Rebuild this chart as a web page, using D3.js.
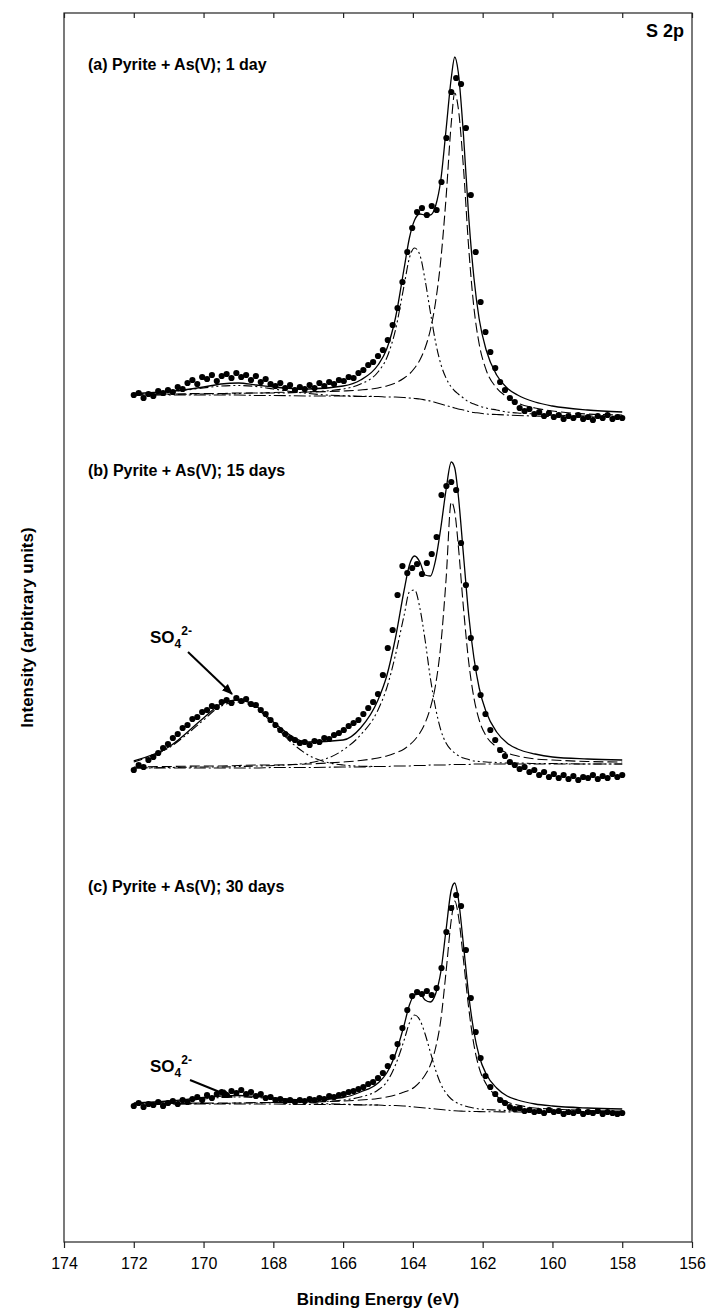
<!DOCTYPE html>
<html>
<head>
<meta charset="utf-8">
<script src="https://cdn.jsdelivr.net/npm/d3@7"></script>
<style>
  body { margin: 0; background: #fff; }
  svg text { font-family: Arial, "Liberation Sans", sans-serif; fill: #000; }
</style>
</head>
<body>
<div class="chart"></div>
<script>
const width = 708;
const height = 1314;

// binding energy ticks (eV)
const energyTicks = [174, 172, 170, 168, 166, 164, 162, 160, 158, 156];

// energies where the fitted curves were read
const fitEnergy = [172, 171, 170, 169.5, 169, 168.5, 168, 167, 166, 165.5,
  165, 164.75, 164.5, 164.25, 164.1, 163.95, 163.8, 163.65, 163.5, 163.35,
  163.2, 163.05, 162.9, 162.8, 162.7, 162.55, 162.4, 162.25, 162.1, 161.9,
  161.6, 161.3, 161, 160.5, 160, 159, 158];

// energies of the sulfate component
const so4Energy = [172, 171.5, 171, 170.5, 170, 169.5, 169, 168.5, 168, 167.5, 167, 166.5, 166, 165.5, 165];

// energies of the measured points
const dotEnergy = [172, 171.86, 171.72, 171.58, 171.44, 171.3, 171.16, 171.02, 170.88, 170.74,
  170.6, 170.46, 170.32, 170.18, 170.04, 169.9, 169.76, 169.62, 169.48, 169.34,
  169.2, 169.06, 168.92, 168.78, 168.64, 168.5, 168.36, 168.22, 168.08, 167.94,
  167.8, 167.66, 167.52, 167.38, 167.24, 167.1, 166.96, 166.82, 166.68, 166.54,
  166.4, 166.26, 166.12, 165.98, 165.84, 165.7, 165.56, 165.42, 165.28, 165.14,
  165, 164.86, 164.72, 164.58, 164.44, 164.3, 164.16, 164.02, 163.88, 163.74,
  163.6, 163.46, 163.32, 163.18, 163.04, 162.9, 162.76, 162.62, 162.48, 162.34,
  162.2, 162.06, 161.92, 161.78, 161.64, 161.5, 161.36, 161.22, 161.08, 160.94,
  160.8, 160.66, 160.52, 160.38, 160.24, 160.1, 159.96, 159.82, 159.68, 159.54,
  159.4, 159.26, 159.12, 158.98, 158.84, 158.7, 158.56, 158.42, 158.28, 158.14,
  158];

// vertical offset of each spectrum (arbitrary units)
const panelOffsets = [822, 462, 122];
const panelLabels = ['(a) Pyrite + As(V); 1 day', '(b) Pyrite + As(V); 15 days', '(c) Pyrite + As(V); 30 days'];

// (a) 1 day
const bgA = [25, 25, 25, 25, 25, 24.5, 24.5, 24, 24, 23.5,
  23.5, 23, 23, 22.5, 22, 21.5, 21, 20, 19, 17.5,
  16, 14.5, 13, 12, 11, 10, 8.5, 7.5, 7, 6,
  5.5, 5, 4.5, 4, 3.5, 3, 3];
const p32A = [26, 26, 26.5, 26.5, 27, 27, 27.5, 28, 29, 30,
  32, 34, 37, 42, 46, 52, 60, 72, 90, 118,
  160, 222, 297, 327, 312, 252, 172, 112, 76, 50,
  32, 23, 17, 12, 9, 6, 5];
const p12A = [25, 25.5, 26, 26, 26.5, 27, 27, 28, 31, 36,
  48, 62, 90, 135, 162, 172, 165, 140, 108, 78,
  56, 42, 33, 29, 26, 22, 18, 16, 14, 12,
  10, 8, 7, 6, 5, 4, 3.5];
const so4A = [25.5, 26.5, 28, 30, 32, 34, 34.5, 33.5, 31, 28.5, 26.5, 25, 24.3, 23.8, 23.5];
const totalA = [26.5, 28.5, 33, 36, 37, 35, 33, 31, 34, 40,
  55, 71, 102, 152, 182, 200, 206, 205, 205, 214,
  240, 290, 342, 363, 348, 285, 203, 142, 101, 70,
  45, 32, 25, 18, 14, 10, 8];
const dotsA = [25, 27, 22, 26, 24, 29, 27, 30, 28, 33,
  31, 37, 40, 36, 43, 41, 45, 39, 44, 46,
  42, 47, 43, 45, 40, 44, 38, 41, 36, 34,
  37, 32, 35, 30, 33, 31, 35, 32, 37, 34,
  38, 36, 40, 39, 43, 42, 47, 50, 55, 58,
  64, 70, 80, 95, 112, 138, 168, 192, 208, 212,
  205, 214, 210, 238, 282, 328, 342, 336, 292, 225,
  168, 118, 88, 68, 52, 38, 30, 22, 18, 12,
  9, 11, 6, 8, 4, 7, 3, 5, 1, 4,
  2, 5, 1, 3, 0, 4, 2, 5, 1, 3,
  2];

// (b) 15 days
const bgB = [12, 12, 12, 12, 12, 12, 12.5, 12.5, 13, 13,
  13.5, 13.5, 14, 14, 14, 14.5, 14.5, 14.5, 15, 15,
  15, 15, 15.5, 15.5, 15.5, 15.5, 15.5, 16, 16, 16,
  16, 16, 16, 16, 16, 16, 16];
const p32B = [13, 13.5, 14, 14, 14.5, 15, 15, 16, 18, 19.5,
  22, 24, 27, 31, 35, 40, 47, 57, 72, 95,
  135, 200, 278, 268, 235, 172, 118, 82, 60, 44,
  33, 27, 24, 21, 20, 18.5, 18];
const p12B = [12, 12.5, 13, 13, 13.5, 14, 14.5, 17, 30, 45,
  70, 92, 125, 165, 188, 190, 172, 140, 102, 72,
  50, 37, 30, 27, 24.5, 22, 20.5, 19, 18.5, 18,
  17.5, 17, 17, 16.5, 16.5, 16, 16];
const so4B = [18, 24, 32, 45, 60, 74, 78, 72, 56, 38, 25, 18, 15, 13.8, 13.5];
const totalB = [19, 33, 62, 76, 80, 74, 58, 38, 40, 52,
  80, 104, 142, 190, 215, 224, 218, 205, 204, 220,
  252, 290, 318, 312, 285, 225, 165, 122, 92, 68,
  48, 37, 31, 26, 23, 21, 20];
const dotsB = [10, 15, 13, 20, 23, 27, 32, 36, 42, 46,
  52, 55, 61, 63, 68, 70, 74, 73, 78, 80,
  77, 82, 79, 81, 76, 75, 70, 66, 60, 55,
  50, 46, 42, 40, 37, 38, 35, 39, 38, 42,
  41, 45, 47, 50, 54, 57, 60, 66, 72, 78,
  86, 105, 132, 150, 185, 214, 207, 212, 216, 206,
  217, 226, 243, 285, 294, 298, 290, 237, 195, 142,
  112, 85, 66, 50, 40, 30, 24, 18, 15, 11,
  13, 8, 10, 5, 8, 3, 6, 2, 5, 1,
  4, 0, 3, 2, 5, 1, 4, 2, 6, 3,
  5];

// (c) 30 days
const bgC = [16, 16, 16, 16, 16, 16, 16, 15.5, 15.5, 15,
  15, 14.5, 14.5, 14, 13.5, 13, 12.5, 12, 11.5, 11,
  10.5, 10, 9.5, 9.2, 9, 8.8, 8.6, 8.5, 8.4, 8.3,
  8.2, 8.1, 8, 8, 8, 8, 8];
const p32C = [16.5, 16.5, 17, 17, 17, 17.5, 17.5, 18, 19, 20,
  21.5, 23, 25, 28, 30, 33, 38, 45, 55, 72,
  100, 148, 200, 219, 205, 160, 112, 75, 52, 36,
  24, 18, 15, 12, 11, 9.5, 9];
const p12C = [16, 16, 16.5, 16.5, 17, 17, 17.5, 18, 20, 23,
  30, 38, 55, 80, 97, 105, 100, 86, 68, 50,
  36, 27, 21, 18.5, 16.5, 14.5, 13, 12, 11, 10.5,
  10, 9.5, 9, 9, 8.5, 8.5, 8];
const so4C = [16.5, 17.2, 18, 19.5, 21, 22.5, 23, 22.5, 21, 19, 17.5, 16.3, 15.8, 15.3, 15];
const totalC = [17, 19, 22.5, 24, 24.5, 23.5, 22, 20, 22.5, 28,
  37, 47, 66, 95, 115, 125, 126, 120, 118, 126,
  148, 190, 230, 237, 222, 175, 125, 88, 64, 46,
  32, 24, 20, 16, 14, 12, 11];
const dotsC = [14, 17, 13, 16, 15, 18, 14, 17, 19, 16,
  20, 18, 21, 23, 20, 25, 22, 26, 28, 25,
  29, 27, 30, 26, 28, 24, 26, 22, 23, 20,
  21, 19, 20, 18, 20, 19, 21, 20, 22, 21,
  24, 23, 25, 26, 28, 29, 31, 33, 36, 38,
  42, 47, 54, 63, 76, 92, 110, 124, 128, 126,
  129, 125, 132, 152, 188, 212, 225, 214, 170, 122,
  88, 62, 44, 33, 26, 20, 17, 13, 11, 12,
  9, 10, 8, 9, 7, 10, 8, 9, 6, 8,
  7, 9, 6, 8, 7, 9, 6, 8, 7, 6,
  7];

const panels = [
  {bg: bgA, p32: p32A, p12: p12A, so4: so4A, total: totalA, dots: dotsA},
  {bg: bgB, p32: p32B, p12: p12B, so4: so4B, total: totalB, dots: dotsB},
  {bg: bgC, p32: p32C, p12: p12C, so4: so4C, total: totalC, dots: dotsC}
];

const frame = {left: 64, right: 692, top: 13, bottom: 1242};

const svg = d3.select('.chart').append('svg')
  .attr('width', width)
  .attr('height', height)
  .attr('viewBox', `0 0 ${width} ${height}`);

const xScale = d3.scaleLinear().domain([174, 156]).range([frame.left, frame.right]);
const yScale = d3.scaleLinear().domain([0, 1229]).range([frame.bottom, frame.top]);

// arrow head
svg.append('defs').append('marker')
  .attr('id', 'head')
  .attr('viewBox', '0 0 10 10')
  .attr('refX', 9).attr('refY', 5)
  .attr('markerWidth', 11).attr('markerHeight', 11)
  .attr('markerUnits', 'userSpaceOnUse')
  .attr('orient', 'auto')
  .append('path').attr('d', 'M0,1 L10,5 L0,9 Z').attr('fill', '#000');

/*      frame and axes      */
svg.append('rect')
  .attr('x', frame.left).attr('y', frame.top)
  .attr('width', frame.right - frame.left).attr('height', frame.bottom - frame.top)
  .attr('fill', 'none').attr('stroke', '#222').attr('stroke-width', 1.2);

const bottomAxis = svg.append('g')
  .attr('transform', `translate(0, ${frame.bottom})`)
  .call(d3.axisBottom(xScale).tickValues(energyTicks).tickSize(6).tickSizeOuter(0).tickPadding(10));
bottomAxis.select('.domain').remove();
bottomAxis.selectAll('line').attr('stroke', '#222').attr('stroke-width', 1.2);
bottomAxis.selectAll('text').attr('font-size', 16).attr('font-family', 'Arial, "Liberation Sans", sans-serif');

const topAxis = svg.append('g')
  .attr('transform', `translate(0, ${frame.top})`)
  .call(d3.axisBottom(xScale).tickValues(energyTicks).tickSize(5).tickFormat(''));
topAxis.select('.domain').remove();
topAxis.selectAll('line').attr('stroke', '#222').attr('stroke-width', 1.2);

svg.append('text')
  .attr('x', (frame.left + frame.right) / 2).attr('y', 1305)
  .attr('text-anchor', 'middle').attr('font-size', 17).attr('font-weight', 'bold')
  .text('Binding Energy (eV)');

svg.append('text')
  .attr('transform', `translate(33, ${(frame.top + frame.bottom) / 2}) rotate(-90)`)
  .attr('text-anchor', 'middle').attr('font-size', 17).attr('font-weight', 'bold')
  .text('Intensity (arbitrary units)');

svg.append('text')
  .attr('x', 684).attr('y', 37)
  .attr('text-anchor', 'end').attr('font-size', 18).attr('font-weight', 'bold')
  .text('S 2p');

/*      spectra      */
const styles = {
  bg: '12,3,2,3',
  p12: '9,3,2,3,2,3',
  so4: '9,3,2,3,2,3',
  p32: '10,4'
};

panels.forEach((p, i) => {
  const off = panelOffsets[i];
  const g = svg.append('g').attr('class', 'panel');
  const line = d3.line()
    .x(d => xScale(d[0]))
    .y(d => yScale(off + d[1]))
    .curve(d3.curveMonotoneX);

  ['bg', 'p12', 'p32'].forEach(key => {
    g.append('path')
      .datum(fitEnergy.map((e, j) => [e, p[key][j]]))
      .attr('d', line)
      .attr('fill', 'none').attr('stroke', '#000').attr('stroke-width', 1.1)
      .attr('stroke-dasharray', styles[key]);
  });
  g.append('path')
    .datum(so4Energy.map((e, j) => [e, p.so4[j]]))
    .attr('d', line)
    .attr('fill', 'none').attr('stroke', '#000').attr('stroke-width', 1.1)
    .attr('stroke-dasharray', styles.so4);
  g.append('path')
    .datum(fitEnergy.map((e, j) => [e, p.total[j]]))
    .attr('d', line)
    .attr('fill', 'none').attr('stroke', '#000').attr('stroke-width', 1.3);

  g.selectAll('circle')
    .data(dotEnergy.map((e, j) => [e, p.dots[j]]))
    .enter().append('circle')
    .attr('cx', d => xScale(d[0]))
    .attr('cy', d => yScale(off + d[1]))
    .attr('r', 3.1)
    .attr('fill', '#000');
});

/*      labels      */
const labelY = [70, 476, 892];
panelLabels.forEach((t, i) => {
  svg.append('text')
    .attr('x', 88).attr('y', labelY[i])
    .attr('font-size', 16).attr('font-weight', 'bold')
    .text(t);
});

function so4Label(x, y, x1, y1, x2, y2) {
  const t = svg.append('text').attr('x', x).attr('y', y)
    .attr('font-size', 17).attr('font-weight', 'bold');
  t.append('tspan').text('SO');
  t.append('tspan').attr('font-size', 12).attr('dy', 5).text('4');
  t.append('tspan').attr('font-size', 12).attr('dy', -13).text('2-');
  svg.append('line')
    .attr('x1', x1).attr('y1', y1).attr('x2', x2).attr('y2', y2)
    .attr('stroke', '#000').attr('stroke-width', 2)
    .attr('marker-end', 'url(#head)');
}
so4Label(150, 643, 188, 652, 232, 694);
so4Label(150, 1072, 190, 1080, 232, 1097);
</script>
</body>
</html>
